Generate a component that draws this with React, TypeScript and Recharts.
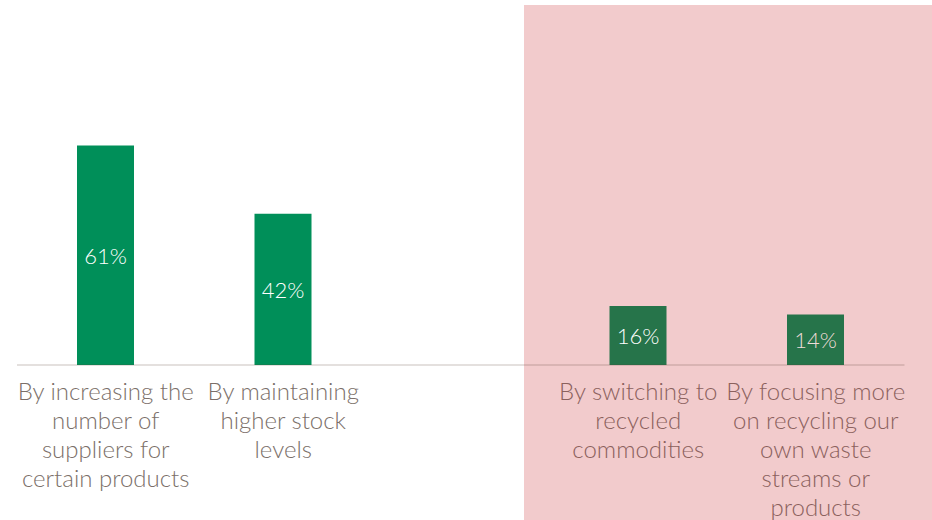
import React from 'react';
import { BarChart, Bar, XAxis, YAxis, Cell, LabelList } from 'recharts';

const categories = [
  'By increasing the number of suppliers for certain products',
  'By maintaining higher stock levels',
  '',
  'By switching to recycled commodities',
  'By focusing more on recycling our own waste streams or products',
];
const tickLines = [
  ['By increasing the', 'number of', 'suppliers for', 'certain products'],
  ['By maintaining', 'higher stock', 'levels'],
  [],
  ['By switching to', 'recycled', 'commodities'],
  ['By focusing more', 'on recycling our', 'own waste', 'streams or', 'products'],
];
const values = [61, 42, null, 16.4, 14];
const highlighted = [false, false, false, true, true];

const data = categories.map((name, i) => ({ name, value: values[i], idx: i }));

const FONT = 'Lato, "Open Sans", sans-serif';

const Tick = (props: any) => {
  const { x, y, payload } = props;
  const lines = tickLines[payload.index] || [];
  const hi = highlighted[payload.index];
  return (
    <text
      x={x}
      y={y}
      textAnchor="middle"
      fill={hi ? '#8b615d' : '#7b6f69'}
      fontFamily={FONT}
      fontWeight={300}
      fontSize={24}
    >
      {lines.map((l, i) => (
        <tspan key={i} x={x} dy={i === 0 ? 27 : 29}>
          {l}
        </tspan>
      ))}
    </text>
  );
};

export default function App() {
  return (
    <div style={{ position: 'absolute', left: 0, top: 0, width: 932, height: 520, background: '#fff' }}>
      <div style={{ position: 'absolute', left: 524, top: 5, width: 408, height: 515, background: '#f2cbcc' }} />
      <div style={{ position: 'absolute', left: 0, top: 0 }}>
        <BarChart width={932} height={520} data={data} margin={{ top: 113, right: 27.5, bottom: 0, left: 17 }}>
          <YAxis hide domain={[0, 70]} />
          <XAxis
            dataKey="name"
            height={155}
            interval={0}
            tickLine={false}
            axisLine={{ stroke: 'rgba(90,60,50,0.16)', strokeWidth: 2 }}
            tick={<Tick />}
          />
          <Bar dataKey="value" barSize={57} isAnimationActive={false}>
            {data.map((d, i) => (
              <Cell key={i} fill={highlighted[i] ? '#26744a' : '#008f59'} />
            ))}
            <LabelList
              dataKey="value"
              position="center"
              content={(p: any) => {
                const { x, y, width, height, value, index } = p;
                if (value == null) return null;
                return (
                  <text
                    x={x + width / 2}
                    y={y + height / 2}
                    textAnchor="middle"
                    dominantBaseline="central"
                    fill={highlighted[index] ? '#f0dcd9' : '#ffffff'}
                    fontFamily={FONT}
                    fontWeight={300}
                    fontSize={22}
                  >
                    {Math.round(value)}%
                  </text>
                );
              }}
            />
          </Bar>
        </BarChart>
      </div>
    </div>
  );
}
